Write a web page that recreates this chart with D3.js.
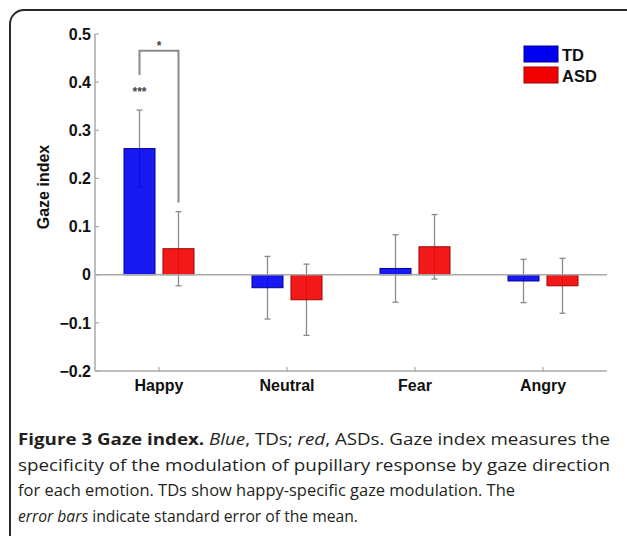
<!DOCTYPE html>
<html><head><meta charset="utf-8">
<script src="https://cdn.jsdelivr.net/npm/d3@7"></script>
<style>html,body{margin:0;padding:0;background:#fff;}svg{display:block;}</style>
</head><body>
<script>
const categories = ["Happy", "Neutral", "Fear", "Angry"];
const series = ["TD", "ASD"];
const tdValues = [0.262, -0.027, 0.013, -0.013];
const tdErrors = [0.08, 0.065, 0.07, 0.045];
const asdValues = [0.054, -0.052, 0.058, -0.023];
const asdErrors = [0.077, 0.074, 0.067, 0.057];
const yTicks = [-0.2, -0.1, 0, 0.1, 0.2, 0.3, 0.4, 0.5];
const yTickLabels = ["\u22120.2", "\u22120.1", "0", "0.1", "0.2", "0.3", "0.4", "0.5"];
const bracketLevels = [0.415, 0.465, 0.15]; // left leg bottom, top, right leg bottom
const starLevels = [0.48, 0.385]; // "*" , "***"
const seriesColors = ["#0000f0", "#f20000"];
const seriesStroke = ["#00009a", "#a00000"];

const W = 627, H = 536;
const FONT = "'Liberation Sans', Arial, Helvetica, sans-serif";
const svg = d3.select("body").append("svg").attr("width", W).attr("height", H);

// frame
svg.append("rect").attr("x", 10).attr("y", 10).attr("width", 640).attr("height", 560)
  .attr("rx", 14).attr("fill", "none").attr("stroke", "#2b2b2b").attr("stroke-width", 2);

const x0 = d3.scaleBand().domain(categories).range([95, 607]);
const x1 = d3.scaleBand().domain(series).range([29, 99]).paddingInner(0.205);
const y = d3.scaleLinear().domain([-0.2, 0.5]).range([371, 34]);

const axisColor = "#a8a8a8";
const g = svg.append("g");

// axes lines
g.append("line").attr("x1", 95).attr("x2", 95).attr("y1", y(0.5)).attr("y2", y(-0.2)).attr("stroke", axisColor).attr("stroke-width", 1.5);
g.append("line").attr("x1", 95).attr("x2", 607).attr("y1", y(-0.2)).attr("y2", y(-0.2)).attr("stroke", axisColor).attr("stroke-width", 1.5);

// y ticks
yTicks.forEach((t, i) => {
  g.append("line").attr("x1", 95).attr("x2", 99).attr("y1", y(t)).attr("y2", y(t)).attr("stroke", axisColor).attr("stroke-width", 1.2);
  g.append("text").attr("x", 91).attr("y", y(t)).attr("dy", "0.36em").attr("text-anchor", "end")
    .style("font-family", FONT).attr("font-weight", "bold").attr("font-size", 16)
    .attr("fill", "#111").text(yTickLabels[i]);
});

// x ticks & labels
categories.forEach(c => {
  const cx = x0(c) + x0.bandwidth() / 2;
  g.append("line").attr("x1", cx).attr("x2", cx).attr("y1", y(-0.2)).attr("y2", y(-0.2) - 4).attr("stroke", axisColor).attr("stroke-width", 1.2);
  g.append("text").attr("x", cx).attr("y", 391).attr("text-anchor", "middle")
    .style("font-family", FONT).attr("font-weight", "bold").attr("font-size", 16)
    .attr("fill", "#111").text(c);
});

// y label
g.append("text").attr("transform", `translate(49,${187}) rotate(-90)`).attr("text-anchor", "middle")
  .style("font-family", FONT).attr("font-weight", "bold").attr("font-size", 16)
  .attr("fill", "#111").text("Gaze index");

const data = [];
categories.forEach((c, i) => {
  data.push({cat: c, s: 0, v: tdValues[i], e: tdErrors[i]});
  data.push({cat: c, s: 1, v: asdValues[i], e: asdErrors[i]});
});

// error bars (drawn beneath bars, visible through slightly translucent fills)
const errColor = "#8a8a8a";
data.forEach(d => {
  const cx = x0(d.cat) + x1(series[d.s]) + x1.bandwidth() / 2;
  g.append("line").attr("x1", cx).attr("x2", cx).attr("y1", y(d.v + d.e)).attr("y2", y(d.v - d.e)).attr("stroke", errColor).attr("stroke-width", 1.3);
  [d.v + d.e, d.v - d.e].forEach(t => {
    g.append("line").attr("x1", cx - 3).attr("x2", cx + 3).attr("y1", y(t)).attr("y2", y(t)).attr("stroke", errColor).attr("stroke-width", 1.3);
  });
});

// bars
g.selectAll("rect.bar").data(data).enter().append("rect").attr("class", "bar")
  .attr("x", d => x0(d.cat) + x1(series[d.s]))
  .attr("width", x1.bandwidth())
  .attr("y", d => y(Math.max(0, d.v)))
  .attr("height", d => Math.abs(y(d.v) - y(0)))
  .attr("fill", d => seriesColors[d.s]).attr("fill-opacity", 0.9)
  .attr("stroke", d => seriesStroke[d.s]).attr("stroke-width", 1);

// zero line
g.append("line").attr("x1", 95).attr("x2", 607).attr("y1", y(0)).attr("y2", y(0)).attr("stroke", axisColor).attr("stroke-width", 1.5);

// significance bracket
const xl = x0("Happy") + x1("TD") + x1.bandwidth() / 2;
const xr = x0("Happy") + x1("ASD") + x1.bandwidth() / 2;
g.append("path").attr("d", `M${xl},${y(bracketLevels[0])}V${y(bracketLevels[1])}H${xr}V${y(bracketLevels[2])}`)
  .attr("fill", "none").attr("stroke", "#8a8a8a").attr("stroke-width", 2);
g.append("text").attr("x", (xl + xr) / 2).attr("y", y(starLevels[0])).attr("dy", "0.55em").attr("text-anchor", "middle")
  .style("font-family", FONT).attr("font-weight", "bold").attr("font-size", 12).attr("fill", "#444").text("*");
g.append("text").attr("x", xl).attr("y", y(starLevels[1])).attr("dy", "0.55em").attr("text-anchor", "middle")
  .style("font-family", FONT).attr("font-weight", "bold").attr("font-size", 12).attr("fill", "#444").text("***");

// legend
series.forEach((s, i) => {
  const ly = 46 + i * 21;
  g.append("rect").attr("x", 524).attr("y", ly).attr("width", 34).attr("height", 16)
    .attr("fill", seriesColors[i]).attr("stroke", seriesStroke[i]).attr("stroke-width", 1);
  g.append("text").attr("x", 562).attr("y", ly + 15).style("font-family", FONT)
    .attr("font-weight", "bold").attr("font-size", 16.5).attr("fill", "#111").text(s);
});

// caption
const capLines = [
  [{t: "Figure 3 Gaze index. ", w: "bold"}, {t: "Blue", i: true}, {t: ", TDs; "}, {t: "red", i: true}, {t: ", ASDs. Gaze index measures the"}],
  [{t: "specificity of the modulation of pupillary response by gaze direction"}],
  [{t: "for each emotion. TDs show happy-specific gaze modulation. The"}],
  [{t: "error bars", i: true}, {t: " indicate standard error of the mean."}]
];
const capWidths = [592, 592, 497, 340];
const capBase = [445, 470.5, 496, 521.5];
capLines.forEach((line, li) => {
  const t = svg.append("text").attr("x", 18).attr("y", capBase[li])
    .style("font-family", "'Open Sans', 'Noto Sans', sans-serif").attr("font-size", 16.5).attr("fill", "#231f20")
    .attr("textLength", capWidths[li]).attr("lengthAdjust", "spacingAndGlyphs");
  line.forEach(p => {
    t.append("tspan").attr("font-weight", p.w || "normal").attr("font-style", p.i ? "italic" : "normal").text(p.t);
  });
});
</script>
</body></html>
